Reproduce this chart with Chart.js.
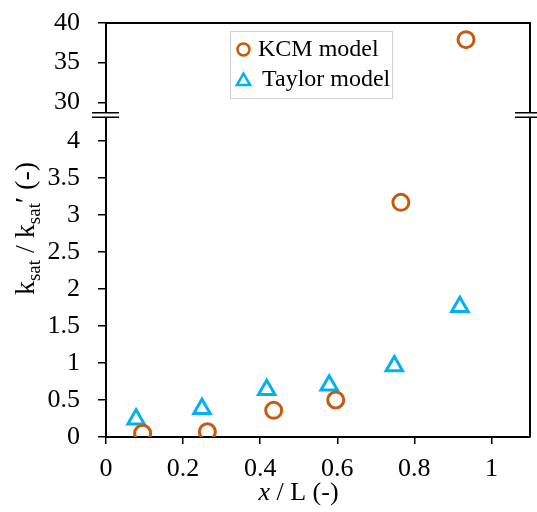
<!DOCTYPE html>
<html>
<head>
<meta charset="utf-8">
<script src="https://cdn.jsdelivr.net/npm/chart.js@4.4.1/dist/chart.umd.min.js"></script>
<style>
    html, body { margin: 0; padding: 0; background: #fff; }
    #wrap { width: 537px; height: 512px; }
</style>
</head>
<body>
<div id="wrap"><canvas id="myChart" width="537" height="512"></canvas></div>
<script>
// values
const kcmX = [0.095, 0.263, 0.435, 0.596, 0.765, 0.934];
const kcmY = [0.05, 0.07, 0.36, 0.50, 3.17, 37.9];
const taylorX = [0.078, 0.249, 0.417, 0.579, 0.748, 0.918];
const taylorY = [0.24, 0.38, 0.64, 0.70, 0.96, 1.76];

// tick labels
const xTicks = [0, 0.2, 0.4, 0.6, 0.8, 1];
const yLowTicks = [0, 0.5, 1, 1.5, 2, 2.5, 3, 3.5, 4];
const yHighTicks = [30, 35, 40];

// broken y axis : lower panel 0..lowMax, upper panel highMin..highMax
const lowMax = 4.35;
const highMin = 28.4;
const highMax = 40;

const serif = '"Liberation Serif", "Times New Roman", serif';
const orange = '#C55A11';
const cyan = '#00B0F0';

//make {x,y} points, keep only the ones for one panel
const makePoints = (xs, ys, keep) => {
    let pts = [];
    for (let i = 0; i < xs.length; i++) {
        if (keep(ys[i])) pts.push({ x: xs[i], y: ys[i] });
    }
    return pts;
}
const isLow = v => v <= lowMax;
const isHigh = v => v > lowMax;

const tickFont = { family: serif, size: 26 };
const tickOpts = { font: tickFont, color: '#000', autoSkip: false, maxRotation: 0, callback: v => String(v) };

// no automatic label overflow padding, the layout padding decides the plot box
const noPad = s => { s.paddingTop = 0; s.paddingBottom = 0; s.paddingLeft = 0; s.paddingRight = 0; };

// draws box border, axis break marks, legend and axis titles
const framePlugin = {
    id: 'frame',
    afterDraw(chart) {
        const ctx = chart.ctx;
        const a = chart.chartArea;
        const yb = chart.scales.y.top; // panel boundary
        ctx.save();

        // top + right border
        ctx.strokeStyle = '#000';
        ctx.lineWidth = 2;
        ctx.beginPath();
        ctx.moveTo(a.left, a.top);
        ctx.lineTo(a.right, a.top);
        ctx.lineTo(a.right, a.bottom);
        ctx.stroke();

        // break marks (left + right)
        ctx.fillStyle = '#fff';
        ctx.fillRect(a.left - 3, yb - 2.3, 6, 4.6);
        ctx.fillRect(a.right - 3, yb - 2.3, 6, 4.6);
        ctx.lineWidth = 1.5;
        ctx.beginPath();
        [-2.3, 2.3].forEach(d => {
            ctx.moveTo(a.left - 14, yb + d);
            ctx.lineTo(a.left + 13, yb + d);
            ctx.moveTo(a.right - 15, yb + d);
            ctx.lineTo(a.right + 8, yb + d);
        });
        ctx.stroke();

        // legend box
        ctx.strokeStyle = '#d0d0d0';
        ctx.lineWidth = 1;
        ctx.strokeRect(230.5, 31.5, 162, 67);

        ctx.lineWidth = 2.5;
        ctx.strokeStyle = orange;
        ctx.beginPath();
        ctx.arc(243.5, 49.5, 6, 0, Math.PI * 2);
        ctx.stroke();

        ctx.strokeStyle = cyan;
        ctx.lineJoin = 'miter';
        ctx.beginPath();
        ctx.moveTo(243.5, 73.5);
        ctx.lineTo(250, 85);
        ctx.lineTo(237, 85);
        ctx.closePath();
        ctx.stroke();

        ctx.fillStyle = '#000';
        ctx.font = '24px ' + serif;
        ctx.textBaseline = 'middle';
        ctx.textAlign = 'left';
        ctx.fillText('KCM model', 258, 50);
        ctx.fillText('Taylor model', 262, 80);

        // x title : "x / L (-)" with italic x
        ctx.textBaseline = 'alphabetic';
        ctx.font = 'italic 26px ' + serif;
        const wx = ctx.measureText('x').width;
        ctx.font = '26px ' + serif;
        const wr = ctx.measureText(' / L (-)').width;
        let sx = 298.5 - (wx + wr) / 2;
        ctx.font = 'italic 26px ' + serif;
        ctx.fillText('x', sx, 500);
        ctx.font = '26px ' + serif;
        ctx.fillText(' / L (-)', sx + wx, 500);

        // y title : k_sat / k_sat' (-), rotated
        const parts = [
            { t: 'k', f: '28px ' + serif, dy: 0 },
            { t: 'sat', f: '19px ' + serif, dy: 6 },
            { t: ' / k', f: '28px ' + serif, dy: 0 },
            { t: 'sat', f: '19px ' + serif, dy: 6 },
            { t: '\u2032 (-)', f: '28px ' + serif, dy: 0 }
        ];
        let total = 0;
        parts.forEach(p => { ctx.font = p.f; p.w = ctx.measureText(p.t).width; total += p.w; });
        ctx.translate(34, 228.5);
        ctx.rotate(-Math.PI / 2);
        let px = -total / 2;
        parts.forEach(p => {
            ctx.font = p.f;
            ctx.fillText(p.t, px, p.dy);
            px += p.w;
        });

        ctx.restore();
    }
};

const ctx = document.getElementById('myChart');

const mychartView = new Chart(ctx, {
    type: 'scatter',
    data: {
        datasets: [{
            label: 'KCM model',
            data: makePoints(kcmX, kcmY, isLow),
            yAxisID: 'y',
            pointStyle: 'circle',
            pointRadius: 8,
            borderWidth: 3,
            borderColor: orange,
            backgroundColor: 'transparent'
        }, {
            label: 'KCM model (upper)',
            data: makePoints(kcmX, kcmY, isHigh),
            yAxisID: 'yTop',
            pointStyle: 'circle',
            pointRadius: 8,
            borderWidth: 3,
            borderColor: orange,
            backgroundColor: 'transparent'
        }, {
            label: 'Taylor model',
            data: makePoints(taylorX, taylorY, isLow),
            yAxisID: 'y',
            pointStyle: 'triangle',
            pointRadius: 9.5,
            borderWidth: 3,
            borderColor: cyan,
            backgroundColor: 'transparent'
        }]
    },
    options: {
        responsive: false,
        animation: false,
        events: [],
        layout: { autoPadding: false, padding: { top: 23, right: 7, left: 0, bottom: 0 } },
        plugins: {
            legend: { display: false },
            tooltip: { enabled: false }
        },
        scales: {
            x: {
                type: 'linear',
                min: 0,
                max: 1.1,
                border: { color: '#000', width: 2 },
                grid: { drawOnChartArea: false, color: '#000', lineWidth: 1.5, tickLength: 7 },
                ticks: Object.assign({ padding: 10 }, tickOpts),
                afterBuildTicks: s => { s.ticks = xTicks.map(v => ({ value: v })); },
                afterFit: s => { s.height = 75; noPad(s); }
            },
            y: {
                type: 'linear',
                stack: 'left',
                stackWeight: 322,
                min: 0,
                max: lowMax,
                border: { color: '#000', width: 2 },
                grid: { drawOnChartArea: false, color: '#000', lineWidth: 1.5, tickLength: 8 },
                ticks: Object.assign({ padding: 18 }, tickOpts),
                afterBuildTicks: s => { s.ticks = yLowTicks.map(v => ({ value: v })); },
                afterFit: s => { s.width = 106; noPad(s); }
            },
            yTop: {
                type: 'linear',
                position: 'left',
                stack: 'left',
                stackWeight: 92,
                min: highMin,
                max: highMax,
                border: { color: '#000', width: 2 },
                grid: { drawOnChartArea: false, color: '#000', lineWidth: 1.5, tickLength: 8 },
                ticks: Object.assign({ padding: 18 }, tickOpts),
                afterBuildTicks: s => { s.ticks = yHighTicks.map(v => ({ value: v })); },
                afterFit: s => { s.width = 106; noPad(s); }
            }
        }
    },
    plugins: [framePlugin]
});
</script>
</body>
</html>
